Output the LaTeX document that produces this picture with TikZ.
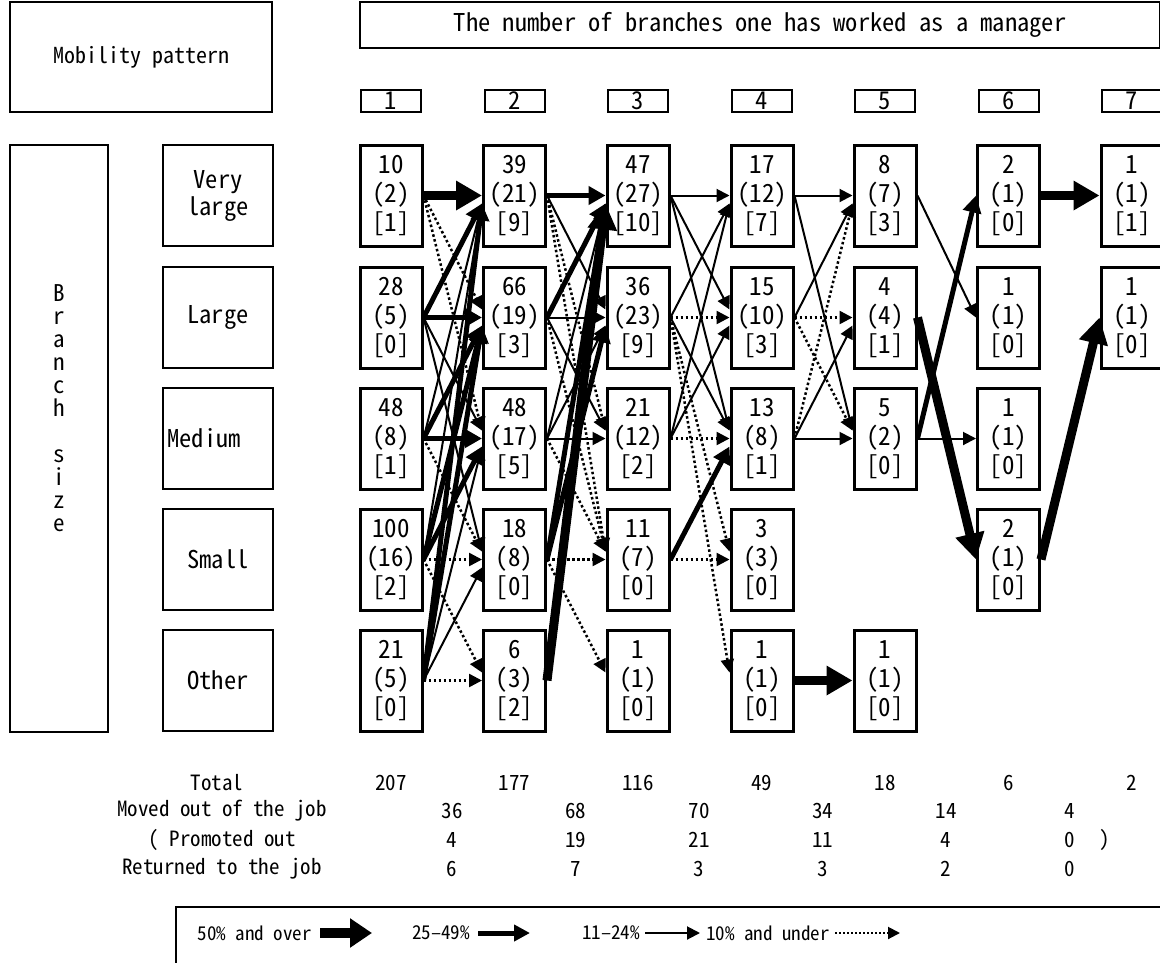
\documentclass[tikz,border=0pt]{standalone}
\usepackage{fontspec}
\setmainfont{Noto Sans CJK JP}[RawFeature=+hwid]
\usetikzlibrary{arrows.meta,calc}

\begin{document}
\begin{tikzpicture}[x=1pt,y=-1pt,
  cell/.style={draw, line width=3pt, minimum width=62pt, minimum height=101pt,
               align=center, inner sep=0pt, font=\fontsize{25}{29}\selectfont},
  frame/.style={draw, line width=2pt, inner sep=0pt, align=center,
               font=\fontsize{24.5}{27}\selectfont},
  colhead/.style={frame, minimum width=60pt, minimum height=22pt},
  rowhead/.style={frame, minimum width=110pt, minimum height=101pt},
  tab/.style={font=\fontsize{21}{23}\selectfont, inner sep=0pt},
  leg/.style={font=\fontsize{19}{21}\selectfont, inner sep=0pt, anchor=east},
  % flow classes: >=50%, 25-49%, 11-24%, <=10%
  fA/.style={line width=9pt, -{Triangle[length=26pt,width=28pt]}},
  fB/.style={line width=5pt, -{Triangle[length=17pt,width=18pt]}},
  fC/.style={line width=2pt, -{Triangle[length=13pt,width=13pt]}},
  fD/.style={line width=2.5pt, dash pattern=on 2.5pt off 2.5pt, -{Triangle[length=13pt,width=13pt]}}
]
\useasboundingbox (0,0) rectangle (1160,962);

% ---------- headings ----------
\node[frame, minimum width=262pt, minimum height=110pt, font=\fontsize{22}{25}\selectfont]
  (mob) at (141,57) {Mobility pattern};
\node[frame, minimum width=800pt, minimum height=46pt] (num) at (760,25)
  {The number of branches one has worked as a manager};
\foreach \i/\x in {1/391,2/514.5,3/638,4/762,5/885,6/1008.5,7/1132}
  \node[colhead] (h\i) at (\x,101) {\i};

\node[frame, minimum width=98pt, minimum height=587pt] (bs) at (59,438.5) {};
\node[font=\fontsize{23}{23}\selectfont, align=center, inner sep=0pt] (bst) at (59,408)
  {B\\r\\a\\n\\c\\h\\\mbox{}\\s\\i\\z\\e};

\node[rowhead] (r1) at (218,195.5) {Very\\large};
\node[rowhead] (r2) at (218,317.5) {Large};
\node[rowhead] (r3) at (218,438.5) {Medium\hspace*{28pt}};
\node[rowhead] (r4) at (218,559.5) {Small};
\node[rowhead] (r5) at (218,680.5) {Other};

% ---------- cells ----------
\def\ya{195.5}\def\yb{317.5}\def\yc{438.5}\def\yd{559.5}\def\ye{680.5}
% column 1
\node[cell] (a1) at (391,\ya) {10\\(2)\\{[1]}};
\node[cell] (a2) at (391,\yb) {28\\(5)\\{[0]}};
\node[cell] (a3) at (391,\yc) {48\\(8)\\{[1]}};
\node[cell] (a4) at (391,\yd) {100\\(16)\\{[2]}};
\node[cell] (a5) at (391,\ye) {21\\(5)\\{[0]}};
% column 2
\node[cell] (b1) at (514.5,\ya) {39\\(21)\\{[9]}};
\node[cell] (b2) at (514.5,\yb) {66\\(19)\\{[3]}};
\node[cell] (b3) at (514.5,\yc) {48\\(17)\\{[5]}};
\node[cell] (b4) at (514.5,\yd) {18\\(8)\\{[0]}};
\node[cell] (b5) at (514.5,\ye) {6\\(3)\\{[2]}};
% column 3
\node[cell] (c1) at (638,\ya) {47\\(27)\\{[10]}};
\node[cell] (c2) at (638,\yb) {36\\(23)\\{[9]}};
\node[cell] (c3) at (638,\yc) {21\\(12)\\{[2]}};
\node[cell] (c4) at (638,\yd) {11\\(7)\\{[0]}};
\node[cell] (c5) at (638,\ye) {1\\(1)\\{[0]}};
% column 4
\node[cell] (d1) at (762,\ya) {17\\(12)\\{[7]}};
\node[cell] (d2) at (762,\yb) {15\\(10)\\{[3]}};
\node[cell] (d3) at (762,\yc) {13\\(8)\\{[1]}};
\node[cell] (d4) at (762,\yd) {3\\(3)\\{[0]}};
\node[cell] (d5) at (762,\ye) {1\\(1)\\{[0]}};
% column 5
\node[cell] (e1) at (885,\ya) {8\\(7)\\{[3]}};
\node[cell] (e2) at (885,\yb) {4\\(4)\\{[1]}};
\node[cell] (e3) at (885,\yc) {5\\(2)\\{[0]}};
\node[cell] (e5) at (885,\ye) {1\\(1)\\{[0]}};
% column 6
\node[cell] (f1) at (1008.5,\ya) {2\\(1)\\{[0]}};
\node[cell] (f2) at (1008.5,\yb) {1\\(1)\\{[0]}};
\node[cell] (f3) at (1008.5,\yc) {1\\(1)\\{[0]}};
\node[cell] (f4) at (1008.5,\yd) {2\\(1)\\{[0]}};
% column 7
\node[cell] (g1) at (1132,\ya) {1\\(1)\\{[1]}};
\node[cell] (g2) at (1132,\yb) {1\\(1)\\{[0]}};

% ---------- flows ----------
% \fl{class}{from}{to}{vertical offset at arrival}
\newcommand{\fl}[4]{\draw[#1] (#2.east) -- ([yshift=#4pt]#3.west);}

% column 1 -> 2
\fl{fA}{a1}{b1}{0}
\fl{fD}{a1}{b2}{8}
\fl{fD}{a1}{b3}{8}
\fl{fB}{a2}{b1}{-8}
\fl{fB}{a2}{b2}{0}
\fl{fC}{a2}{b3}{8}
\fl{fC}{a2}{b4}{8}
\fl{fC}{a3}{b1}{-8}
\fl{fB}{a3}{b2}{-8}
\fl{fB}{a3}{b3}{0}
\fl{fD}{a3}{b4}{8}
\fl{fC}{a4}{b1}{-8}
\fl{fB}{a4}{b2}{-8}
\fl{fB}{a4}{b3}{-8}
\fl{fD}{a4}{b4}{0}
\fl{fD}{a4}{b5}{8}
\fl{fB}{a5}{b1}{-8}
\fl{fB}{a5}{b2}{-8}
\fl{fC}{a5}{b3}{-8}
\fl{fC}{a5}{b4}{-8}
\fl{fD}{a5}{b5}{0}

% column 2 -> 3
\fl{fB}{b1}{c1}{0}
\fl{fC}{b1}{c2}{8}
\fl{fD}{b1}{c3}{8}
\fl{fD}{b1}{c4}{8}
\fl{fB}{b2}{c1}{-8}
\fl{fC}{b2}{c2}{0}
\fl{fC}{b2}{c3}{8}
\fl{fD}{b2}{c4}{8}
\fl{fC}{b3}{c1}{-8}
\fl{fC}{b3}{c2}{-8}
\fl{fC}{b3}{c3}{0}
\fl{fD}{b3}{c4}{8}
\fl{fB}{b4}{c1}{-8}
\fl{fB}{b4}{c2}{-8}
\fl{fD}{b4}{c4}{0}
\fl{fD}{b4}{c5}{8}
\fl{fA}{b5}{c1}{-8}

% column 3 -> 4
\fl{fC}{c1}{d1}{0}
\fl{fC}{c1}{d2}{8}
\fl{fC}{c1}{d3}{8}
\fl{fC}{c2}{d1}{-8}
\fl{fD}{c2}{d2}{0}
\fl{fC}{c2}{d3}{8}
\fl{fD}{c2}{d4}{8}
\fl{fD}{c2}{d5}{8}
\fl{fC}{c3}{d1}{-8}
\fl{fC}{c3}{d2}{-8}
\fl{fD}{c3}{d3}{0}
\fl{fB}{c4}{d3}{-8}
\fl{fD}{c4}{d4}{0}

% column 4 -> 5
\fl{fC}{d1}{e1}{0}
\fl{fC}{d1}{e3}{8}
\fl{fC}{d2}{e1}{-8}
\fl{fD}{d2}{e2}{0}
\fl{fD}{d2}{e3}{8}
\fl{fD}{d3}{e1}{-8}
\fl{fC}{d3}{e2}{-8}
\fl{fC}{d3}{e3}{0}
\fl{fA}{d5}{e5}{0}

% column 5 -> 6
\fl{fC}{e1}{f2}{0}
\fl{fA}{e2}{f4}{0}
\fl{fB}{e3}{f1}{0}
\fl{fC}{e3}{f3}{0}

% column 6 -> 7
\fl{fA}{f1}{g1}{0}
\fl{fA}{f4}{g2}{0}

% ---------- totals ----------
\node[tab] (tT) at (217,783) {Total};
\node[tab] (tM) at (222,811) {Moved out of the job};
\node[tab] (tP) at (222,840) {( Promoted out};
\node[tab] (tR) at (222,869) {Returned to the job};
\foreach \v [count=\i] in {207,177,116,49,18,6,2}
  \node[tab] (tot\i) at ({391+123.5*(\i-1)},783) {\v};
\foreach \v [count=\i] in {36,68,70,34,14,4}
  \node[tab] (mov\i) at ({452+123.5*(\i-1)},811) {\v};
\foreach \v [count=\i] in {4,19,21,11,4,0}
  \node[tab] (pro\i) at ({452+123.5*(\i-1)},840) {\v};
\node[tab] (close) at (1105,840) {)};
\foreach \v [count=\i] in {6,7,3,3,2,0}
  \node[tab] (ret\i) at ({452+123.5*(\i-1)},869) {\v};

% ---------- legend ----------
\draw[line width=2pt] (1170,907) -| (176,975);
\node[leg] (l1) at (312,933) {50\% and over};
\coordinate (l1a) at (320,933); \coordinate (l1b) at (372,933);
\draw[line width=10pt, -{Triangle[length=22pt,width=28pt]}] (l1a) -- (l1b);
\node[leg] (l2) at (470,933) {25–49\%};
\coordinate (l2a) at (478,933); \coordinate (l2b) at (530,933);
\draw[line width=5pt, -{Triangle[length=16pt,width=16pt]}] (l2a) -- (l2b);
\node[leg] (l3) at (640,933) {11–24\%};
\coordinate (l3a) at (645,933); \coordinate (l3b) at (700,933);
\draw[line width=2pt, -{Triangle[length=13pt,width=13pt]}] (l3a) -- (l3b);
\node[leg] (l4) at (830,933) {10\% and under};
\coordinate (l4a) at (835,933); \coordinate (l4b) at (900,933);
\draw[line width=2pt, dash pattern=on 2pt off 2pt, -{Triangle[length=12pt,width=12pt]}] (l4a) -- (l4b);
\end{tikzpicture}
\end{document}
